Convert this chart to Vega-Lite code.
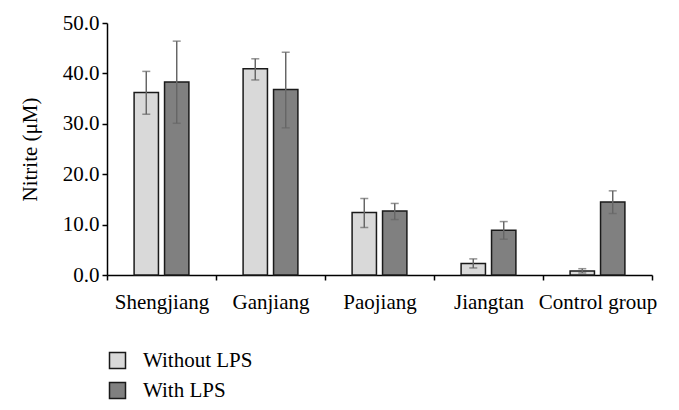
{
  "$schema": "https://vega.github.io/schema/vega-lite/v6.json",
  "autosize": "none",
  "width": 545,
  "height": 252,
  "padding": {"left": 107, "top": 23, "right": 27, "bottom": 135},
  "background": "white",
  "config": {
    "font": "Liberation Serif",
    "view": {"stroke": null},
    "axis": {"labelFont": "Liberation Serif", "titleFont": "Liberation Serif", "labelColor": "#000", "titleColor": "#000", "domainColor": "#000", "tickColor": "#000", "grid": false},
    "legend": {"labelFont": "Liberation Serif", "labelColor": "#000"}
  },
  "data": {
    "values": [
      {"sample": "Shengjiang", "group": "Without LPS", "value": 36.2, "lo": 31.9, "hi": 40.4},
      {"sample": "Shengjiang", "group": "With LPS", "value": 38.3, "lo": 30.1, "hi": 46.4},
      {"sample": "Ganjiang", "group": "Without LPS", "value": 40.9, "lo": 38.7, "hi": 42.9},
      {"sample": "Ganjiang", "group": "With LPS", "value": 36.8, "lo": 29.2, "hi": 44.2},
      {"sample": "Paojiang", "group": "Without LPS", "value": 12.4, "lo": 9.4, "hi": 15.2},
      {"sample": "Paojiang", "group": "With LPS", "value": 12.7, "lo": 11.0, "hi": 14.2},
      {"sample": "Jiangtan", "group": "Without LPS", "value": 2.3, "lo": 1.4, "hi": 3.2},
      {"sample": "Jiangtan", "group": "With LPS", "value": 8.9, "lo": 7.1, "hi": 10.6},
      {"sample": "Control group", "group": "Without LPS", "value": 0.8, "lo": 0.4, "hi": 1.25},
      {"sample": "Control group", "group": "With LPS", "value": 14.5, "lo": 12.2, "hi": 16.7}
    ]
  },
  "encoding": {
    "x": {
      "field": "sample", "type": "nominal",
      "sort": ["Shengjiang", "Ganjiang", "Paojiang", "Jiangtan", "Control group"],
      "scale": {"paddingInner": 0, "paddingOuter": 0},
      "axis": {"title": null, "labelAngle": 0, "labelFontSize": 21, "labelPadding": 11, "tickBand": "extent", "tickSize": 5, "domainWidth": 1.5, "tickWidth": 1.5}
    },
    "xOffset": {
      "field": "group", "type": "nominal",
      "sort": ["Without LPS", "With LPS"],
      "scale": {"paddingInner": 0.2, "paddingOuter": 0.89}
    }
  },
  "layer": [
    {
      "mark": {"type": "bar", "stroke": "#1a1a1a", "strokeWidth": 1.5},
      "encoding": {
        "y": {
          "field": "value", "type": "quantitative",
          "scale": {"domain": [0, 50], "nice": false},
          "axis": {"title": "Nitrite (μM)", "titleFontSize": 21, "titleFontWeight": "normal", "titlePadding": 22, "labelFontSize": 21, "values": [0, 10, 20, 30, 40, 50], "format": ".1f", "tickSize": 5, "labelPadding": 3, "domainWidth": 1.5, "tickWidth": 1.5}
        },
        "fill": {
          "field": "group", "type": "nominal",
          "sort": ["Without LPS", "With LPS"],
          "scale": {"domain": ["Without LPS", "With LPS"], "range": ["#d9d9d9", "#808080"]},
          "legend": {
            "title": null, "orient": "none", "legendX": 0, "legendY": 327, "padding": 0,
            "symbolType": "square", "symbolSize": 256, "symbolStrokeColor": "#1a1a1a", "symbolStrokeWidth": 1.5,
            "labelFontSize": 21, "labelOffset": 15, "rowPadding": 7
          }
        }
      }
    },
    {
      "mark": {"type": "rule", "color": "#666666", "strokeWidth": 1.5},
      "encoding": {
        "y": {"field": "lo", "type": "quantitative"},
        "y2": {"field": "hi"}
      }
    },
    {
      "mark": {"type": "tick", "color": "#666666", "thickness": 1.5, "size": 8},
      "encoding": {"y": {"field": "lo", "type": "quantitative"}}
    },
    {
      "mark": {"type": "tick", "color": "#666666", "thickness": 1.5, "size": 8},
      "encoding": {"y": {"field": "hi", "type": "quantitative"}}
    }
  ]
}
